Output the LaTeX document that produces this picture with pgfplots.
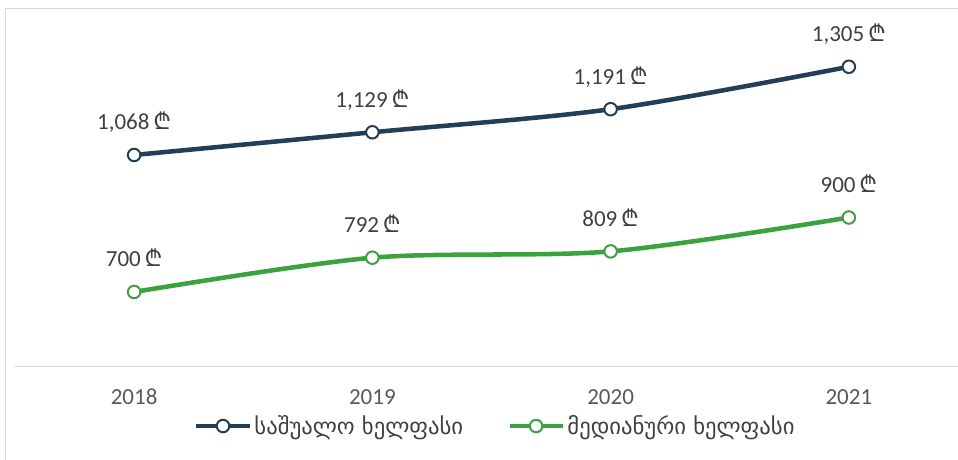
\documentclass[border=0pt]{standalone}
\usepackage{fontspec}
\setmainfont{Carlito}
\newfontfamily\geo{DejaVu Sans}
\newfontfamily\lari{Noto Sans}
\usepackage{pgfplots}
\pgfplotsset{compat=1.18}
\definecolor{navy}{HTML}{243F55}
\definecolor{grn}{HTML}{3BA23F}
\definecolor{lbl}{HTML}{404040}
\definecolor{tck}{HTML}{595959}
\definecolor{frm}{HTML}{D9D9D9}
\begin{document}
\begin{tikzpicture}
\path[use as bounding box] (0,0) rectangle (718.5pt,345pt);
\draw[frm, line width=0.75pt] (3.75pt,338.25pt) -- (3.75pt,-20pt);
\draw[frm, line width=0.75pt] (3.75pt,338.25pt) -- (740pt,338.25pt);
\begin{axis}[
  at={(11.25pt,70.2pt)}, anchor=south west,
  scale only axis, width=714.75pt, height=251.25pt,
  xmin=-0.5, xmax=3.5, ymin=500, ymax=1400,
  axis x line=bottom, axis y line=none,
  x axis line style={frm, line width=1.2pt, -},
  xtick={0,1,2,3}, xticklabels={2018,2019,2020,2021},
  ytick=\empty, major tick length=0pt,
  xticklabel style={anchor=base, yshift=-28.5pt, text=tck, font=\fontsize{17.25}{20}\selectfont},
  clip=false,
  /pgf/number format/assume math mode=true,
  /pgf/number format/1000 sep={,},
  nodes near coords={\pgfmathprintnumber[fixed,precision=0]{\pgfplotspointmeta}\,{\lari ₾}},
  every node near coord/.append style={anchor=base, yshift=18.75pt, text=lbl, font=\fontsize{17.25}{20}\selectfont},
  every axis plot/.append style={smooth, tension=0.5, line width=3.4pt, mark=*, mark size=4.7pt,
     mark options={fill=white, line width=1.5pt}},
  legend columns=2,
  legend style={at={(0.1836,-0.178)}, anchor=west, draw=none, fill=none,
     font=\geo\fontsize{17}{20}\selectfont, text=lbl,
     /tikz/every even column/.append style={column sep=31pt},
     nodes={inner xsep=2pt}},
  legend image code/.code={\draw[mark repeat=2,mark phase=2] plot coordinates {(0pt,0pt)(19.9pt,0pt)(39.75pt,0pt)};},
]
\addplot[navy] coordinates {(0,1068) (1,1129) (2,1191) (3,1305)};
\addlegendentry{საშუალო ხელფასი}
\addplot[grn] coordinates {(0,700) (1,792) (2,809) (3,900)};
\addlegendentry{მედიანური ხელფასი}
\end{axis}
\end{tikzpicture}
\end{document}
